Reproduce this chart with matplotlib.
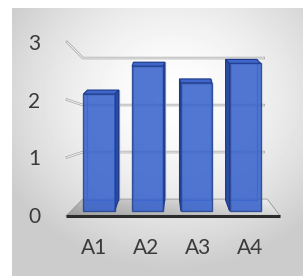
import numpy as np
import matplotlib.pyplot as plt
from matplotlib.patches import Polygon, Rectangle

categories = ['A1', 'A2', 'A3', 'A4']
values = [2.1, 2.6, 2.3, 2.65]
y_ticks = [0, 1, 2, 3]

W, H = 303, 276
plt.rcParams['font.family'] = ['Lato', 'DejaVu Sans']

fig = plt.figure(figsize=(W / 100, H / 100), dpi=100)
fig.patch.set_facecolor('white')

# background panel, soft radial shading
bg = fig.add_axes([12 / W, 0, 1 - 12 / W, 1 - 8 / H])
yy, xx = np.mgrid[0:268, 0:291]
r = np.hypot((xx - 160) / 190.0, (yy - 90) / 170.0)
shade = 1 - 0.2 * np.clip(r, 0, 1) ** 1.6
bg.imshow(shade, cmap='gray', vmin=0, vmax=1, aspect='auto', interpolation='bilinear')
bg.axis('off')

ax = fig.add_axes([60 / W, 46 / H, 230 / W, 210 / H])
ax.set_xlim(-0.8, 3.92)
ax.set_ylim(-0.34, 3.43)
ax.patch.set_alpha(0)
for s in ax.spines.values():
    s.set_visible(False)

n = len(categories)
x = np.arange(n)
mid = (n - 1) / 2


# fake perspective: front scale (labels) vs back wall scale
def y_front(v):
    return -0.072 + 1.036 * np.asarray(v, dtype=float)


def y_back(v):
    return 0.215 + 0.844 * np.asarray(v, dtype=float)


# floor
fl, fr = -0.68, n - 1 + 0.72
floor_back = [mid + (fl - mid) * 0.84, mid + (fr - mid) * 0.88]
floor_pts = [(fl, -0.09), (fr, -0.09), (floor_back[1], 0.215), (floor_back[0], 0.215)]
floor = Polygon(floor_pts, closed=True, fc='none', ec='#9a9a9a', lw=0.6, zorder=1)
ax.add_patch(floor)
gx = np.linspace(0, 1, 100)[None, :]
gy = np.linspace(0, 1, 20)[:, None]
fgrad = 0.62 + 0.22 * gx + 0.1 * gy
im = ax.imshow(fgrad, cmap='gray', vmin=0, vmax=1, aspect='auto', origin='lower',
               extent=(fl, fr, -0.09, 0.215), zorder=0.9, interpolation='bilinear')
im.set_clip_path(floor)
ax.plot([fl, fr], [-0.09, -0.09], color='#2b2b2b', lw=2.2, solid_capstyle='butt', zorder=1.2)

# wall gridlines with the slanted side-wall stub
gx0, gx1, gx2 = -0.657, floor_back[0], 3.38
for v in y_ticks[1:]:
    xs = [gx0, gx1, gx2]
    ys = [float(y_front(v)), float(y_back(v)), float(y_back(v))]
    ax.plot(xs, ys, color='#a8a8a8', lw=1.8, zorder=1.5, solid_joinstyle='miter')
    ax.plot(xs, ys, color='#f6f6f6', lw=0.7, zorder=1.6, solid_joinstyle='miter')

# glass bars
bw = 0.64
for i, v in enumerate(values):
    x0, x1 = i - bw / 2, i + bw / 2
    dx = 0.055 * (mid - i)
    bx0, bx1 = x0 + dx, x1 + dx
    by0, by1 = 0.2, v + 0.072
    ax.add_patch(Rectangle((bx0, by0), bx1 - bx0, by1 - by0, fill=False,
                           ec='#7d9be6', lw=0.9, zorder=2))
    if dx > 0:
        side = [(x1, 0), (x1, v), (bx1, by1), (bx1, by0)]
    else:
        side = [(x0, 0), (x0, v), (bx0, by1), (bx0, by0)]
    ax.add_patch(Polygon(side, closed=True, fc='#2a4aa6', ec='#1f3a86', lw=0.8, zorder=3))
    top = [(x0, v), (x1, v), (bx1, by1), (bx0, by1)]
    ax.add_patch(Polygon(top, closed=True, fc='#3e66cc', ec='#1f3a86', lw=0.8, zorder=3))

ax.bar(x, values, width=bw, color='#3360cc', alpha=0.85, edgecolor='#23418f',
       lw=1.0, zorder=4)

ax.set_yticks(y_front(y_ticks))
ax.set_yticklabels([str(t) for t in y_ticks])
ax.set_xticks(mid + 1.07 * (x - mid))
ax.set_xticklabels(categories)
ax.tick_params(axis='y', length=0, pad=14, labelsize=15, labelcolor='#3a3a3a')
ax.tick_params(axis='x', length=0, pad=6, labelsize=15, labelcolor='#3a3a3a')

fig.savefig('out.png', dpi=100, facecolor='white')
